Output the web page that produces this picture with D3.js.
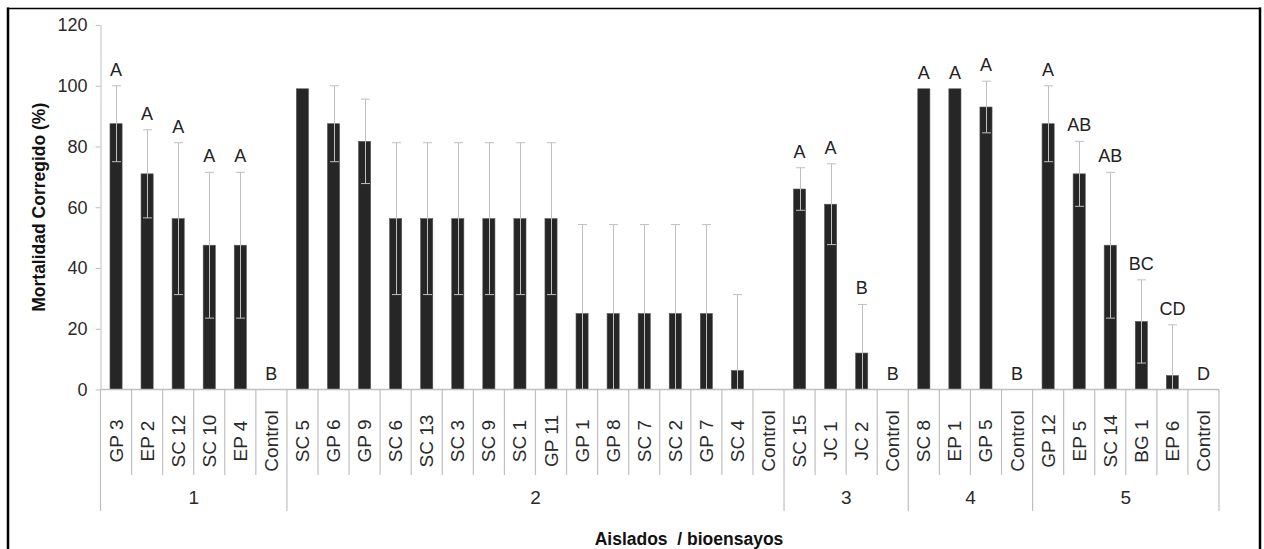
<!DOCTYPE html>
<html><head><meta charset="utf-8">
<script src="https://cdn.jsdelivr.net/npm/d3@7/dist/d3.min.js"></script>
<style>
html,body{margin:0;padding:0;background:#fff;}
svg{display:block;font-family:"Liberation Sans",Arial,sans-serif;}
</style></head>
<body>
<svg id="chart" width="1264" height="549"></svg>
<script>
const categories = ["GP 3","EP 2","SC 12","SC 10","EP 4","Control",
  "SC 5","GP 6","GP 9","SC 6","SC 13","SC 3","SC 9","SC 1","GP 11","GP 1","GP 8","SC 7","SC 2","GP 7","SC 4","Control",
  "SC 15","JC 1","JC 2","Control",
  "SC 8","EP 1","GP 5","Control",
  "GP 12","EP 5","SC 14","BG 1","EP 6","Control"];
const groupNames = ["1","2","3","4","5"];
const groupSizes = [6,16,4,4,6];
const values = [87.5,71,56.25,47.5,47.5,0,
  99,87.5,81.7,56.25,56.25,56.25,56.25,56.25,56.25,25,25,25,25,25,6.25,0,
  66,61,12,0,
  99,99,93,0,
  87.5,71,47.5,22.4,4.6,0];
const errors = [12.5,14.5,25,24,24,0,
  0,12.5,13.9,25,25,25,25,25,25,29.3,29.3,29.3,29.3,29.3,25,0,
  7,13.3,16,0,
  0,0,8.5,0,
  12.5,10.7,24,13.7,16.7,0];
const letters = ["A","A","A","A","A","B",
  "","","","","","","","","","","","","","","","",
  "A","A","B","B",
  "A","A","A","B",
  "A","AB","AB","BC","CD","D"];
const yTicks = [0,20,40,60,80,100,120];
const yTitle = "Mortalidad Corregido (%)";
const xTitle = "Aislados  / bioensayos";

(function(){
const svg = d3.select("#chart");
const pL = 100.5, pR = 1219, pT = 25, pB = 389.5;
const gray = "#bfbfbf";

// frame (top, left, right; bottom edge lies outside the picture)
const fr = svg.append("g").attr("stroke","#000").attr("fill","none");
fr.append("line").attr("x1",7).attr("x2",1261).attr("y1",8.5).attr("y2",8.5).attr("stroke-width",1.6);
fr.append("line").attr("x1",8).attr("x2",8).attr("y1",7.5).attr("y2",560).attr("stroke-width",2.5);
fr.append("line").attr("x1",1260).attr("x2",1260).attr("y1",7.5).attr("y2",560).attr("stroke-width",2.5);

const x = d3.scaleBand().domain(d3.range(categories.length)).range([pL,pR]).padding(0);
const y = d3.scaleLinear().domain([0,120]).range([pB,pT]);
const bw = x.bandwidth()*0.39;

// y axis
const yAxis = svg.append("g").attr("transform",`translate(${pL},0)`)
  .call(d3.axisLeft(y).tickValues(yTicks).tickSize(5).tickSizeOuter(0).tickPadding(8));
yAxis.select(".domain").attr("stroke",gray);
yAxis.selectAll(".tick line").attr("stroke",gray);
yAxis.selectAll(".tick text").attr("font-size",18).attr("fill","#2a2a2a")
  .attr("font-family","Liberation Sans, Arial, sans-serif");

// bars
svg.append("g").selectAll("rect").data(values).join("rect")
  .attr("x",(d,i)=>x(i)+x.bandwidth()/2-bw/2)
  .attr("y",d=>y(d))
  .attr("width",bw)
  .attr("height",d=>pB-y(d))
  .attr("fill","#262626").attr("stroke","#555").attr("stroke-width",0.6);

// error bars
const eb = svg.append("g").attr("stroke",gray).attr("stroke-width",1).attr("fill","none");
values.forEach((v,i)=>{
  const e = errors[i];
  if(!e) return;
  const cx = Math.round(x(i)+x.bandwidth()/2)+0.5;
  const hi = y(v+e), lo = y(Math.max(0,v-e));
  eb.append("line").attr("x1",cx).attr("x2",cx).attr("y1",hi).attr("y2",lo);
  eb.append("line").attr("x1",cx-4.5).attr("x2",cx+4.5).attr("y1",hi).attr("y2",hi);
  if(v-e>0) eb.append("line").attr("x1",cx-4.5).attr("x2",cx+4.5).attr("y1",lo).attr("y2",lo);
});

// letters
svg.append("g").selectAll("text").data(letters).join("text")
  .attr("x",(d,i)=>x(i)+x.bandwidth()/2)
  .attr("y",(d,i)=>y(values[i]+errors[i])-10)
  .attr("text-anchor","middle").attr("font-size",18).attr("fill","#222")
  .text(d=>d);

// x axis line
svg.append("line").attr("x1",pL).attr("x2",pR).attr("y1",pB).attr("y2",pB)
  .attr("stroke",gray).attr("stroke-width",1.5);

// dividers
const groupEdges = [0];
groupSizes.forEach(s=>groupEdges.push(groupEdges[groupEdges.length-1]+s));
const dv = svg.append("g").attr("stroke",gray).attr("stroke-width",1.2);
d3.range(categories.length+1).forEach(i=>{
  const xx = i<categories.length ? x(i) : pR;
  const isGroup = groupEdges.includes(i);
  dv.append("line").attr("x1",xx).attr("x2",xx).attr("y1",pB).attr("y2",isGroup?511:475);
});

// category labels
svg.append("g").selectAll("text").data(categories).join("text")
  .attr("transform",(d,i)=>`translate(${x(i)+x.bandwidth()/2},441) rotate(-90)`)
  .attr("text-anchor","middle").attr("dominant-baseline","central")
  .attr("font-size",19).attr("fill","#2a2a2a").text(d=>d);

// group labels
svg.append("g").selectAll("text").data(groupNames).join("text")
  .attr("x",(d,i)=>(x(groupEdges[i]) + (groupEdges[i+1]<categories.length?x(groupEdges[i+1]):pR))/2)
  .attr("y",497).attr("text-anchor","middle").attr("dominant-baseline","central")
  .attr("font-size",19).attr("fill","#2a2a2a").text(d=>d);

// axis titles
svg.append("text").attr("x",689).attr("y",539).attr("text-anchor","middle")
  .attr("dominant-baseline","central").attr("font-size",17.5).attr("font-weight","bold")
  .attr("fill","#111").style("white-space","pre").text(xTitle);
svg.append("text").attr("transform",`translate(39,${(pT+pB)/2}) rotate(-90)`)
  .attr("text-anchor","middle").attr("dominant-baseline","central")
  .attr("font-size",17.5).attr("font-weight","bold").attr("fill","#111").text(yTitle);
})();
</script>
</body></html>
